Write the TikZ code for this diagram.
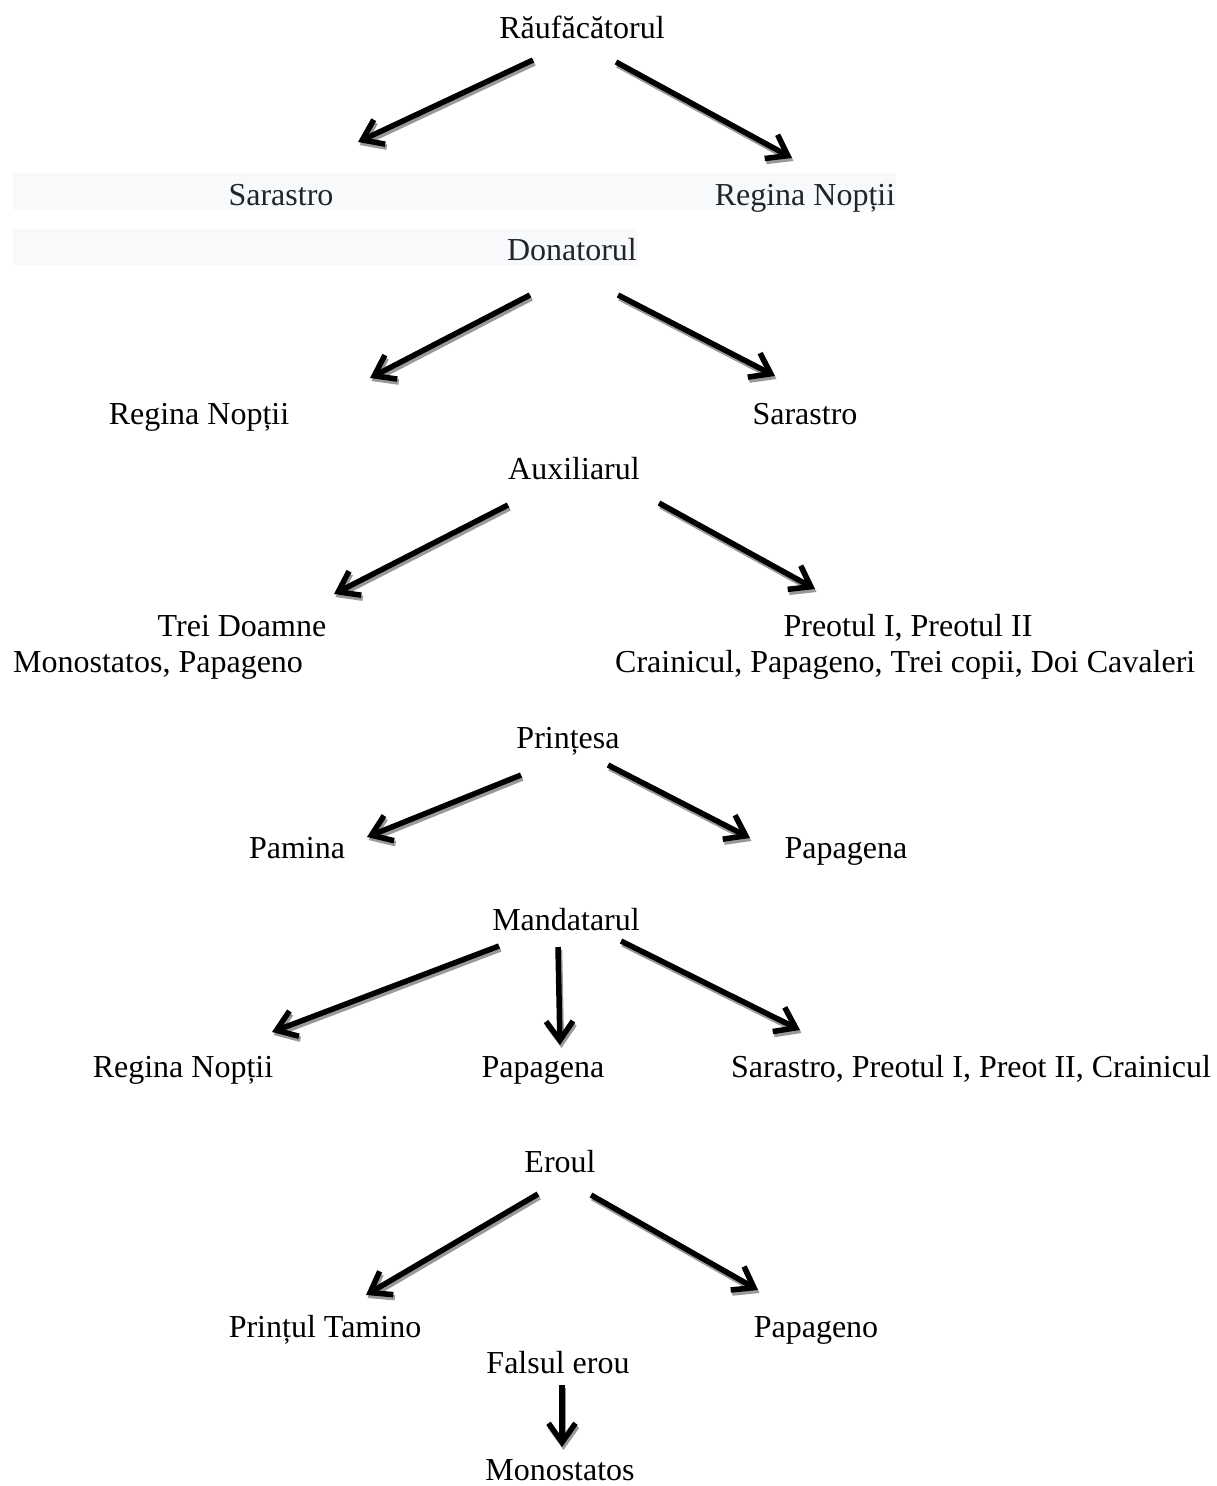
\documentclass[tikz,border=0pt]{standalone}
\usepackage{fontspec}
\setmainfont{Liberation Serif}
\usetikzlibrary{arrows.meta}
\definecolor{bandgray}{HTML}{F8F9FA}
\definecolor{bandtext}{HTML}{212529}
\tikzset{
  lbl/.style={anchor=base, inner sep=0pt, font=\fontsize{32pt}{38pt}\selectfont},
  blbl/.style={lbl, text=bandtext},
  arrtip/.style={-{Straight Barb[length=19pt,width=27pt]}},
  arr/.style={line width=5.5pt, arrtip,
    preaction={draw=black!40, line width=5.5pt, arrtip, transform canvas={shift={(1.5pt,-3pt)}}}}
}
\begin{document}
\begin{tikzpicture}[x=1pt,y=-1pt]
\useasboundingbox (0,0) rectangle (1216,1486);
% background bands
\fill[bandgray] (13,173) rectangle (896,210);
\fill[bandgray] (13,229) rectangle (638,265);
% labels
\node[lbl] (rau) at (582,38) {Răufăcătorul};
\node[blbl] (sar1) at (281,205) {Sarastro};
\node[blbl] (reg1) at (805,205) {Regina Nopții};
\node[blbl] (don) at (572,260) {Donatorul};
\node[lbl] (reg2) at (199,424) {Regina Nopții};
\node[lbl] (sar2) at (805,424) {Sarastro};
\node[lbl] (aux) at (574,479) {Auxiliarul};
\node[lbl] (trei) at (242,636) {Trei Doamne};
\node[lbl, anchor=base west] (mono1) at (13,672) {Monostatos, Papageno};
\node[lbl] (preot) at (908,636) {Preotul I, Preotul II};
\node[lbl, anchor=base west] (crain) at (615,672) {Crainicul, Papageno, Trei copii, Doi Cavaleri};
\node[lbl] (prin) at (568,748) {Prințesa};
\node[lbl] (pam) at (297,858) {Pamina};
\node[lbl] (papa1) at (846,858) {Papagena};
\node[lbl] (mand) at (566,930) {Mandatarul};
\node[lbl] (reg3) at (183,1077) {Regina Nopții};
\node[lbl] (papa2) at (543,1077) {Papagena};
\node[lbl] (sar3) at (971,1077) {Sarastro, Preotul I, Preot II, Crainicul};
\node[lbl] (erou) at (560,1172) {Eroul};
\node[lbl] (tam) at (325,1337) {Prințul Tamino};
\node[lbl] (papg) at (816,1337) {Papageno};
\node[lbl] (fals) at (558,1373) {Falsul erou};
\node[lbl] (mono2) at (560,1480) {Monostatos};
% arrow end points
\coordinate (a1s) at (533,60);   \coordinate (a1e) at (358,142);
\coordinate (a2s) at (616,62);   \coordinate (a2e) at (792,158);
\coordinate (a3s) at (530,295);  \coordinate (a3e) at (370,378);
\coordinate (a4s) at (618,295);  \coordinate (a4e) at (775,376);
\coordinate (a5s) at (508,505);  \coordinate (a5e) at (334,594);
\coordinate (a6s) at (659,503);  \coordinate (a6e) at (815,589);
\coordinate (a7s) at (521,775);  \coordinate (a7e) at (367,837);
\coordinate (a8s) at (608,765);  \coordinate (a8e) at (750,838);
\coordinate (a9s) at (499,946);  \coordinate (a9e) at (272,1032);
\coordinate (a10s) at (558,947); \coordinate (a10e) at (560,1045);
\coordinate (a11s) at (621,941); \coordinate (a11e) at (800,1030);
\coordinate (a12s) at (538,1194);\coordinate (a12e) at (366,1295);
\coordinate (a13s) at (591,1195);\coordinate (a13e) at (758,1290);
\coordinate (a14s) at (562,1385);\coordinate (a14e) at (562,1447);
% arrows
\draw[arr] (a1s) -- (a1e);
\draw[arr] (a2s) -- (a2e);
\draw[arr] (a3s) -- (a3e);
\draw[arr] (a4s) -- (a4e);
\draw[arr] (a5s) -- (a5e);
\draw[arr] (a6s) -- (a6e);
\draw[arr] (a7s) -- (a7e);
\draw[arr] (a8s) -- (a8e);
\draw[arr] (a9s) -- (a9e);
\draw[arr] (a10s) -- (a10e);
\draw[arr] (a11s) -- (a11e);
\draw[arr] (a12s) -- (a12e);
\draw[arr] (a13s) -- (a13e);
\draw[arr] (a14s) -- (a14e);
\end{tikzpicture}
\end{document}
